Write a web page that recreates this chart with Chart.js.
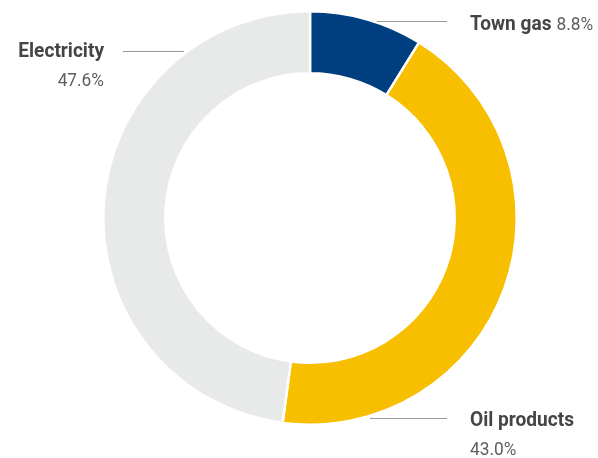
<!DOCTYPE html>
<html>
<head>
<meta charset="utf-8">
<script src="https://cdn.jsdelivr.net/npm/chart.js@4"></script>
<style>
  html, body { margin: 0; padding: 0; background: #fff; }
  #wrap { width: 598px; height: 458px; }
</style>
</head>
<body>
<div id="wrap"><canvas id="energyChart" width="598" height="458"></canvas></div>
<script>
const categories = ['Town gas', 'Oil products', 'Electricity'];
const shares = [8.8, 43.0, 47.6];
const shareLabels = ['8.8%', '43.0%', '47.6%'];
const colors = ['#003f7f', '#f8be00', '#e8e9e9'];

// label layout: [textX, textY, lineFromX, lineToX, lineY, align, twoLines]
const labelLayout = [
  [470, 30, 377, 447, 21, 'left', false],
  [470, 426, 370, 447, 418, 'left', true],
  [104, 57, 123, 184, 51, 'right', true]
];

const BOLD = 'bold 21px Roboto';
const REG = '19px Roboto';
const SQUEEZE = 0.91; // fake a condensed face

function narrowText(ctx, text, x, y, align) {
  ctx.save();
  ctx.translate(x, y);
  ctx.scale(SQUEEZE, 1);
  ctx.textAlign = align;
  ctx.fillText(text, 0, 0);
  ctx.restore();
  return ctx.measureText(text).width * SQUEEZE;
}

const labelPlugin = {
  id: 'sliceLabels',
  afterDraw(chart) {
    const ctx = chart.ctx;
    ctx.save();
    ctx.textBaseline = 'alphabetic';
    categories.forEach((name, i) => {
      const [tx, ty, x1, x2, ly, align, twoLines] = labelLayout[i];
      ctx.strokeStyle = '#9a9a96';
      ctx.lineWidth = 1.2;
      ctx.beginPath();
      ctx.moveTo(x1, ly + 0.5);
      ctx.lineTo(x2, ly + 0.5);
      ctx.stroke();

      ctx.fillStyle = '#454545';
      ctx.font = BOLD;
      const w = narrowText(ctx, name, tx, ty, align);
      ctx.fillStyle = '#5e5e5e';
      if (twoLines) {
        ctx.font = REG;
        narrowText(ctx, shareLabels[i], tx, ty + 29, align);
      } else {
        ctx.font = REG;
        narrowText(ctx, shareLabels[i], tx + w + 5, ty, 'left');
      }
    });
    ctx.restore();
  }
};

new Chart(document.getElementById('energyChart').getContext('2d'), {
  type: 'doughnut',
  data: {
    labels: categories,
    datasets: [{
      data: shares,
      backgroundColor: colors,
      borderColor: '#ffffff',
      borderWidth: 2.5
    }]
  },
  options: {
    responsive: false,
    animation: false,
    cutout: '70%',
    layout: { padding: { top: 10, bottom: 32, left: 102, right: 80 } },
    plugins: {
      legend: { display: false },
      tooltip: { enabled: false }
    }
  },
  plugins: [labelPlugin]
});
</script>
</body>
</html>
